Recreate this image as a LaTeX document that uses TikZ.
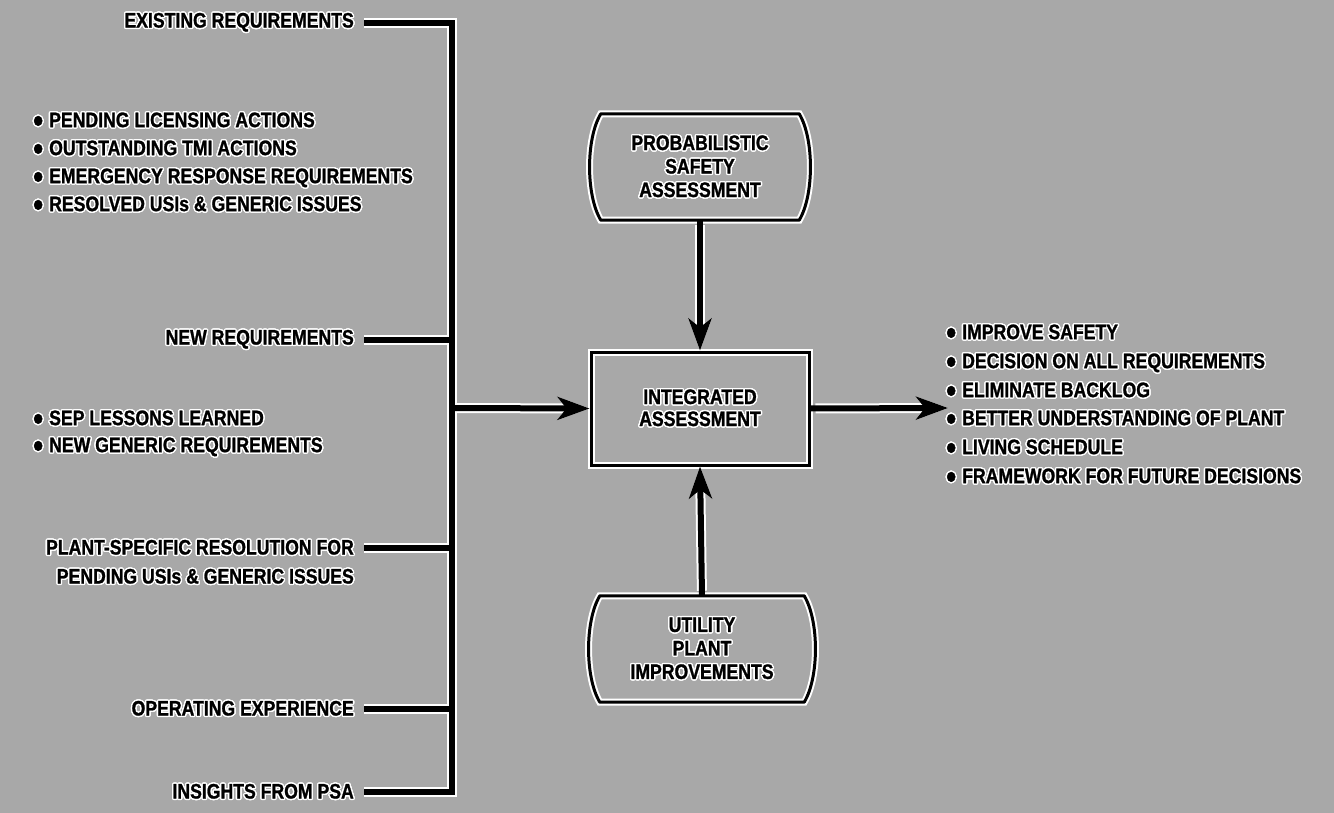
\documentclass[tikz,border=0pt]{standalone}
\usepackage{fontspec}
\setmainfont{Liberation Sans}[FakeStretch=0.84, FakeBold=1.2]
\usepackage[copies]{contour}
\contourlength{1.4pt}
\usetikzlibrary{arrows.meta}
\definecolor{bg}{gray}{0.66}
\newcommand\ct[1]{\contour{white}{#1}}
\newcommand\bul{\makebox[16pt][l]{\raisebox{-5pt}{\fontsize{34pt}{34pt}\selectfont •}}}
\tikzset{
  txt/.style={font=\fontsize{21pt}{24pt}\selectfont\bfseries, inner ysep=0pt, inner xsep=0pt, text=black},
  lbl/.style={txt, inner xsep=10pt, anchor=east},
  item/.style={txt, anchor=west},
  busline/.style={draw=black, line width=6pt, line cap=butt, line join=miter,
    preaction={draw=white, line width=10pt}},
  arr/.style={draw=black, line width=6pt, -{Stealth[length=32pt,width=23pt,inset=9pt]},
    preaction={draw=white, line width=10pt, shorten <=5pt}},
  boxst/.style={draw=black, line width=3pt, minimum width=218pt, minimum height=113pt,
    align=center, txt, font=\fontsize{21pt}{22pt}\selectfont\bfseries,
    preaction={draw=white, line width=7pt}},
  termtxt/.style={txt, align=center, font=\fontsize{21pt}{23.5pt}\selectfont\bfseries},
  term/.style={draw=black, line width=3pt, line join=round,
    preaction={draw=white, line width=7pt}}
}
\begin{document}
\begin{tikzpicture}[x=1pt,y=-1pt]
\useasboundingbox (0,0) rectangle (1334,813);
\fill[bg] (0,0) rectangle (1334,813);

% left labels
\node[lbl] (ex) at (364,23) {\ct{EXISTING REQUIREMENTS}};
\node[lbl] (nr) at (364,340) {\ct{NEW REQUIREMENTS}};
\node[lbl] (pl1) at (364,548) {\ct{PLANT-SPECIFIC RESOLUTION FOR}};
\node[lbl] (pl2) at (364,577) {\ct{PENDING USIs \& GENERIC ISSUES}};
\node[lbl] (op) at (364,709) {\ct{OPERATING EXPERIENCE}};
\node[lbl] (ins) at (364,792) {\ct{INSIGHTS FROM PSA}};

% left lists
\node[item] (la1) at (33,123) {\ct{\bul PENDING LICENSING ACTIONS}};
\node[item] (la2) at (33,151) {\ct{\bul OUTSTANDING TMI ACTIONS}};
\node[item] (la3) at (33,179) {\ct{\bul EMERGENCY RESPONSE REQUIREMENTS}};
\node[item] (la4) at (33,207) {\ct{\bul RESOLVED USIs \& GENERIC ISSUES}};
\node[item] (lb1) at (33,421) {\ct{\bul SEP LESSONS LEARNED}};
\node[item] (lb2) at (33,448) {\ct{\bul NEW GENERIC REQUIREMENTS}};

% right list
\node[item] (r1) at (946,335) {\ct{\bul IMPROVE SAFETY}};
\node[item] (r2) at (946,364) {\ct{\bul DECISION ON ALL REQUIREMENTS}};
\node[item] (r3) at (946,393) {\ct{\bul ELIMINATE BACKLOG}};
\node[item] (r4) at (946,421) {\ct{\bul BETTER UNDERSTANDING OF PLANT}};
\node[item] (r5) at (946,450) {\ct{\bul LIVING SCHEDULE}};
\node[item] (r6) at (946,479) {\ct{\bul FRAMEWORK FOR FUTURE DECISIONS}};

% bus coordinates
\coordinate (btop) at (452,23);
\coordinate (bbot) at (452,792);
\coordinate (bn) at (452,340);
\coordinate (bp) at (452,548);
\coordinate (bo) at (452,709);
\coordinate (bm) at (452,408);
\coordinate (outc) at (948,408);

% central box
\node[boxst] (box) at (700,408.5) {\ct{INTEGRATED}\\\ct{ASSESSMENT}};

% terminators
\node[termtxt, minimum width=198pt, minimum height=106pt] (psa) at (700,167)
  {\ct{PROBABILISTIC}\\\ct{SAFETY}\\\ct{ASSESSMENT}};
\node[termtxt, minimum width=204pt, minimum height=106pt] (ut) at (702,649)
  {\ct{UTILITY}\\\ct{PLANT}\\\ct{IMPROVEMENTS}};
\draw[term] (psa.north west) -- (psa.north east)
  .. controls +(15,25) and +(15,-25) .. (psa.south east) -- (psa.south west)
  .. controls +(-15,-25) and +(-15,25) .. (psa.north west) -- cycle;
\draw[term] (ut.north west) -- (ut.north east)
  .. controls +(15,25) and +(15,-25) .. (ut.south east) -- (ut.south west)
  .. controls +(-15,-25) and +(-15,25) .. (ut.north west) -- cycle;

% bus with branches (one path, so the white halo lies under all black lines)
\draw[busline] (ex.east) -- (btop) -- (bbot) -- (ins.east)
  (nr.east) -- (bn) (pl1.east) -- (bp) (op.east) -- (bo);

% arrows
\draw[arr] (bm) -- (box.west);
\draw[arr] (psa.south) -- (box.north);
\draw[arr] (ut.north) -- (box.south);
\draw[arr] (box.east) -- (outc);
\end{tikzpicture}
\end{document}
